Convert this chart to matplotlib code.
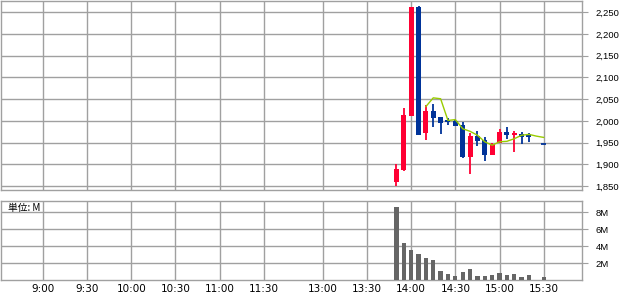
import numpy as np
import matplotlib
matplotlib.use("Agg")
import matplotlib.pyplot as plt

# 5分足データ (時刻, 始値, 高値, 安値, 終値)
times = ["13:50", "13:55", "14:00", "14:05", "14:10", "14:15", "14:20", "14:25", "14:30", "14:35",
         "14:40", "14:45", "14:50", "14:55", "15:00", "15:05", "15:10", "15:15", "15:20", "15:30"]
opens = [1860, 1887, 2011, 2262, 1972, 2022, 2009, 2003, 2000, 1990,
         1917, 1965, 1956, 1922, 1950, 1974, 1968, 1971, 1969, 1948]
highs = [1900, 2030, 2261, 2264, 2036, 2040, 2009, 2006, 2001, 1998,
         1972, 1976, 1963, 1950, 1982, 1985, 1976, 1974, 1972, 1948]
lows = [1851, 1884, 2011, 1967, 1955, 1986, 1971, 1990, 1988, 1915,
        1878, 1942, 1908, 1922, 1950, 1958, 1928, 1947, 1952, 1948]
closes = [1889, 2013, 2261, 1967, 2022, 2007, 1995, 1997, 1988, 1917,
          1965, 1954, 1922, 1948, 1975, 1968, 1972, 1963, 1962, 1948]
volumes = [8.59, 4.39, 3.57, 3.06, 2.63, 2.35, 1.06, 0.71, 0.47, 0.94,
           1.29, 0.51, 0.51, 0.63, 0.86, 0.59, 0.71, 0.39, 0.59, 0.39]

# 移動平均線
ma_times = ["14:10", "14:15", "14:20", "14:25", "14:30", "14:35", "14:40", "14:45", "14:50",
            "14:55", "15:00", "15:05", "15:10", "15:15", "15:20", "15:25", "15:30"]
ma_values = [2033, 2053, 2051, 2001, 2003, 1982, 1976, 1967, 1952,
             1944, 1952, 1953, 1959, 1967, 1969, 1965, 1962]

tick_labels = ["9:00", "9:30", "10:00", "10:30", "11:00", "11:30",
               "13:00", "13:30", "14:00", "14:30", "15:00", "15:30"]

UP = "#ff0033"
DOWN = "#003399"
GRID = "#a0a0a0"


# 昼休みを詰めた時間軸 (11:30 -> 13:00 は40分相当)
def to_x(t):
    h, m = map(int, t.split(":"))
    mins = h * 60 + m
    if mins <= 11 * 60 + 30:
        return mins - 9 * 60
    return 190 + mins - 13 * 60


x = np.array([to_x(t) for t in times])
ma_x = [to_x(t) for t in ma_times]
tick_x = [to_x(t) for t in tick_labels]

plt.rcParams["font.family"] = ["Noto Sans CJK JP", "DejaVu Sans"]

fig = plt.figure(figsize=(6.38, 2.95), dpi=100)
ax = fig.add_axes([0.001, 0.3559, 0.911, 0.6424])
axv = fig.add_axes([0.001, 0.0508, 0.911, 0.2678])

xlim = (-28.7, 365.9)

for a in (ax, axv):
    a.set_xlim(*xlim)
    a.set_xticks(tick_x)
    a.grid(True, color=GRID, linewidth=1.0)
    a.set_axisbelow(True)
    for s in a.spines.values():
        s.set_color(GRID)
        s.set_linewidth(1.0)
    a.yaxis.tick_right()
    a.tick_params(axis="y", length=4, color=GRID, pad=6, labelsize=6.8)
    a.tick_params(axis="x", length=0)
    for lab in a.get_yticklabels():
        lab.set_family(["Liberation Sans", "DejaVu Sans"])

# ローソク足
body_w = 3.4
for xi, o, h, l, c in zip(x, opens, highs, lows, closes):
    col = UP if c > o else DOWN
    ax.vlines(xi, l, h, color=col, linewidth=1.3, zorder=3)
    if abs(c - o) < 1:
        ax.hlines(o, xi - body_w / 2, xi + body_w / 2, color=col, linewidth=1.3, zorder=3)
    else:
        ax.bar(xi, abs(c - o), bottom=min(o, c), width=body_w, color=col, zorder=3)

ax.plot(ma_x, ma_values, color="#99cc00", linewidth=1.0, zorder=4)

ax.set_ylim(1841, 2277)
ax.set_yticks(np.arange(1850, 2251, 50))
ax.set_yticklabels([f"{v:,}" for v in range(1850, 2251, 50)])
ax.set_xticklabels([])

# 出来高
axv.bar(x, volumes, width=2.9, color="#666666", zorder=3)
axv.set_ylim(0, 9.3)
axv.set_yticks([2, 4, 6, 8])
axv.set_yticklabels(["2M", "4M", "6M", "8M"])
axv.set_xticklabels(tick_labels, fontsize=7.5, family=["DejaVu Sans"])
axv.tick_params(axis="x", pad=3)
axv.text(0.012, 0.97, "単位: M", transform=axv.transAxes, ha="left", va="top", fontsize=7)

fig.savefig("out.png", dpi=100)
